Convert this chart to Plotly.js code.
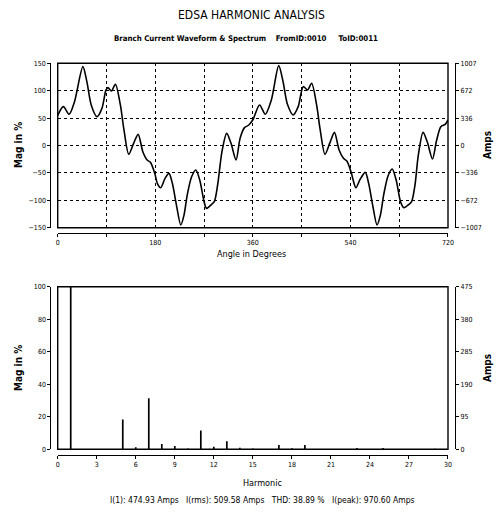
<!DOCTYPE html>
<html>
<head>
<meta charset="utf-8">
<script src="https://cdn.plot.ly/plotly-3.0.1.min.js"></script>
<style>html,body{margin:0;padding:0;background:#fff;}#chart{width:498px;height:513px;}</style>
</head>
<body>
<div id="chart"></div>
<script>
// Waveform (Mag in % vs angle in degrees)
const angleDeg = [0, 10.5, 21, 31, 46.4, 53.8, 61.8, 72.4, 81.6, 89, 92.8, 99, 106.4, 115.6, 121.8, 131, 140, 148.4, 157, 165, 171, 179, 183.7, 190, 198, 205.3, 211.5, 219, 227, 233, 239, 247, 254.8, 262, 270, 274.6, 282.6, 288.8, 295, 303, 311.7, 319.7, 329, 336.4, 344.5, 352.5,
  360, 372.4, 382.9, 394.1, 407.7, 415.7, 423.8, 434.3, 443.6, 452.9, 460.9, 468.4, 477.6, 483.8, 493.1, 502.4, 510.5, 519.1, 527.2, 533.4, 541.4, 545.8, 550.1, 558.2, 567.4, 573.6, 581, 589.1, 595.3, 601.5, 609.5, 617, 624.4, 632.4, 638.6, 647.9, 652.9, 659.1, 665.3, 674, 682, 691.3, 698.7, 706.8, 714.8, 720];
const wavePct = [55, 70.9, 56.9, 80, 143.9, 116.5, 74, 52.6, 67.8, 101, 105.6, 99.5, 111.7, 74, 31.3, -16, 4, 20.4, -11.3, -26.5, -30.7, -50.8, -69, -77, -60, -50.8, -69, -108.6, -145, -126.9, -90, -57, -44.7, -63, -102.5, -114.7, -108.6, -102.5, -72, -11, 22.2, 4, -26.5, 13, 32.6, 37.4,
  47, 74, 56.9, 83.1, 145.7, 116.5, 75.2, 55.7, 70.9, 107.4, 101.3, 113.5, 74, 31.3, -16.1, 5.8, 24, -8.2, -23.4, -28.3, -49, -66, -77, -61.1, -49, -69.1, -108.6, -145, -126.9, -89.1, -55.1, -42.9, -63, -102.5, -113.5, -107.4, -102.5, -72.1, -17.3, 24, 5.8, -24.6, 8.2, 34.4, 38.6, 46.6];

// Spectrum (Mag in % of fundamental)
const harmonics = [1, 5, 6, 7, 8, 9, 10, 11, 12, 13, 14, 15, 17, 18, 19, 23, 25, 29];
const harmPct   = [100, 18.4, 1.2, 31.4, 3.3, 2.0, 0.5, 11.5, 1.5, 4.9, 1.0, 0.5, 2.7, 0.7, 2.7, 0.8, 0.8, 0.4];

// Tick labels
const waveTickVals = [0, 90, 180, 270, 360, 450, 540, 630, 720];
const waveTickText = ['0', '', '180', '', '360', '', '540', '', '720'];
const pctTickVals = [-150, -100, -50, 0, 50, 100, 150];
const ampTickVals = [-1007, -672, -336, 0, 336, 672, 1007];
const harmTickVals = [0, 3, 6, 9, 12, 15, 18, 21, 24, 27, 30];
const specPctTicks = [0, 20, 40, 60, 80, 100];
const specAmpTicks = [0, 95, 190, 285, 380, 475];
const ampRangeTop = [-1007.4, 1007.4];
const ampRangeBot = [0, 475];

const FONT = 'DejaVu Sans Condensed, Liberation Sans Narrow, Liberation Sans, sans-serif';
const tickFont = {family: FONT, size: 7, color: '#000'};

const xDom = [0.1159, 0.8996];
const topDom = [0.5561, 0.8766];
const botDom = [0.1242, 0.4411];
const leftPos = 0.101, rightPos = 0.914;

const traces = [
  {x: angleDeg, y: wavePct, xaxis: 'x', yaxis: 'y', type: 'scatter', mode: 'lines',
   line: {color: '#000', width: 1.6, shape: 'spline', smoothing: 0.8}},
  {x: [null], y: [null], xaxis: 'x', yaxis: 'y2', type: 'scatter', mode: 'lines'},
  {x: harmonics, y: harmPct, xaxis: 'x3', yaxis: 'y3', type: 'bar', width: 0.13, marker: {color: '#000'}},
  {x: [null], y: [null], xaxis: 'x3', yaxis: 'y4', type: 'scatter', mode: 'lines'}
];

const axBase = {showline: true, linecolor: '#000', linewidth: 1, ticks: 'outside', ticklen: 3, tickwidth: 1,
  tickcolor: '#000', tickfont: tickFont, zeroline: false, fixedrange: true};

const layout = {
  width: 498, height: 513,
  margin: {l: 0, r: 0, t: 0, b: 0},
  showlegend: false,
  xaxis: Object.assign({}, axBase, {domain: xDom, range: [0, 720], anchor: 'free', position: 0.5458,
    tickvals: waveTickVals, ticktext: waveTickText,
    showgrid: true, gridcolor: '#000', griddash: '3px,3px'}),
  yaxis: Object.assign({}, axBase, {domain: topDom, range: [-150, 150], anchor: 'free', position: leftPos,
    tickvals: pctTickVals, showgrid: true, gridcolor: '#000', griddash: '3px,3px'}),
  yaxis2: Object.assign({}, axBase, {overlaying: 'y', side: 'right', anchor: 'free', position: rightPos,
    range: ampRangeTop, tickvals: ampTickVals, showgrid: false}),
  xaxis3: Object.assign({}, axBase, {domain: xDom, range: [0, 30], anchor: 'free', position: 0.1131,
    tickmode: 'array', tickvals: harmTickVals, showgrid: false}),
  yaxis3: Object.assign({}, axBase, {domain: botDom, range: [0, 100], anchor: 'free', position: leftPos,
    tickmode: 'array', tickvals: specPctTicks, showgrid: false}),
  yaxis4: Object.assign({}, axBase, {overlaying: 'y3', side: 'right', anchor: 'free', position: rightPos,
    range: ampRangeBot, tickmode: 'array', tickvals: specAmpTicks, showgrid: false}),
  shapes: [
    {type: 'rect', xref: 'x domain', yref: 'y domain', x0: 0, x1: 1, y0: 0, y1: 1,
     line: {color: '#000', width: 1.4}, layer: 'above'},
    {type: 'rect', xref: 'x3 domain', yref: 'y3 domain', x0: 0, x1: 1, y0: 0, y1: 1,
     line: {color: '#000', width: 1.4}, layer: 'above'}
  ],
  annotations: [
    {text: 'EDSA HARMONIC ANALYSIS', xref: 'paper', yref: 'paper', x: 251 / 498, y: 1 - 15 / 513,
     showarrow: false, xanchor: 'center', yanchor: 'middle', font: {family: FONT, size: 12, color: '#000'}},
    {text: 'Branch Current Waveform & Spectrum    FromID:0010     ToID:0011', xref: 'paper', yref: 'paper',
     x: 246 / 498, y: 1 - 38 / 513, showarrow: false, xanchor: 'center', yanchor: 'middle',
     font: {family: FONT, size: 7.8, color: '#000', weight: 'bold'}},
    {text: 'Angle in Degrees', xref: 'paper', yref: 'paper', x: 252 / 498, y: 1 - 254 / 513,
     showarrow: false, xanchor: 'center', yanchor: 'middle', font: {family: FONT, size: 9, color: '#000'}},
    {text: 'Harmonic', xref: 'paper', yref: 'paper', x: 262 / 498, y: 1 - 483 / 513,
     showarrow: false, xanchor: 'center', yanchor: 'middle', font: {family: FONT, size: 9, color: '#000'}},
    {text: 'I(1): 474.93 Amps   I(rms): 509.58 Amps   THD: 38.89 %   I(peak): 970.60 Amps', xref: 'paper', yref: 'paper',
     x: 262 / 498, y: 1 - 500 / 513, showarrow: false, xanchor: 'center', yanchor: 'middle',
     font: {family: FONT, size: 8.5, color: '#000'}},
    {text: 'Mag in %', xref: 'paper', yref: 'paper', x: 18 / 498, y: 1 - 145 / 513, textangle: -90,
     showarrow: false, xanchor: 'center', yanchor: 'middle', font: {family: FONT, size: 10, color: '#000', weight: 'bold'}},
    {text: 'Mag in %', xref: 'paper', yref: 'paper', x: 18 / 498, y: 1 - 368 / 513, textangle: -90,
     showarrow: false, xanchor: 'center', yanchor: 'middle', font: {family: FONT, size: 10, color: '#000', weight: 'bold'}},
    {text: 'Amps', xref: 'paper', yref: 'paper', x: 487 / 498, y: 1 - 145 / 513, textangle: -90,
     showarrow: false, xanchor: 'center', yanchor: 'middle', font: {family: FONT, size: 10, color: '#000', weight: 'bold'}},
    {text: 'Amps', xref: 'paper', yref: 'paper', x: 487 / 498, y: 1 - 368 / 513, textangle: -90,
     showarrow: false, xanchor: 'center', yanchor: 'middle', font: {family: FONT, size: 10, color: '#000', weight: 'bold'}}
  ]
};

Plotly.newPlot('chart', traces, layout, {staticPlot: true, displayModeBar: false});
</script>
</body>
</html>
